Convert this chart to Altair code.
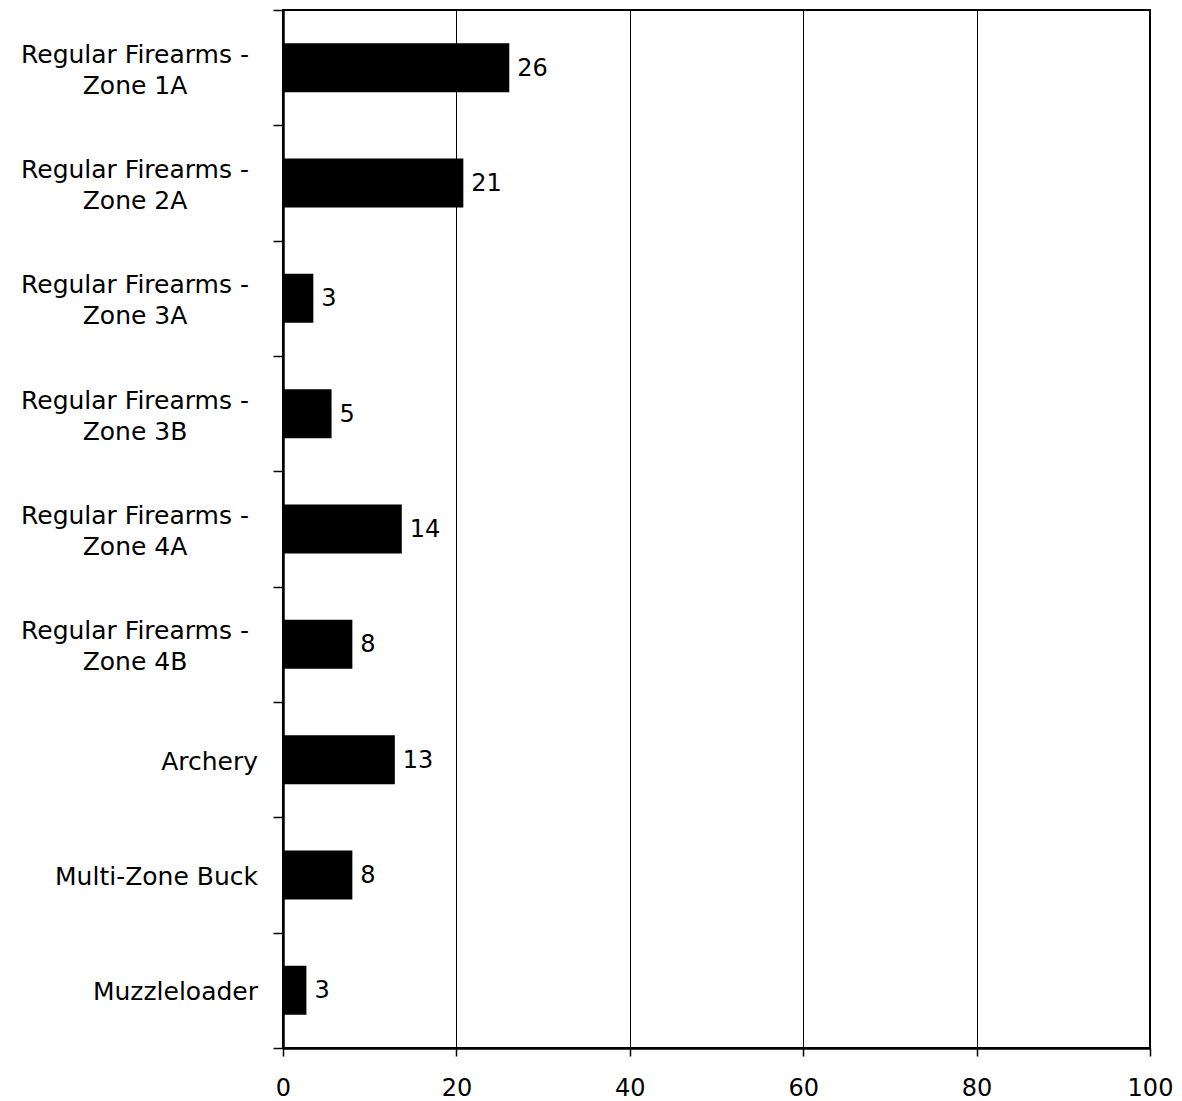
import altair as alt
import pandas as pd

categories = [
    "Regular Firearms -|Zone 1A",
    "Regular Firearms -|Zone 2A",
    "Regular Firearms -|Zone 3A",
    "Regular Firearms -|Zone 3B",
    "Regular Firearms -|Zone 4A",
    "Regular Firearms -|Zone 4B",
    "Archery",
    "Multi-Zone Buck",
    "Muzzleloader",
]
two_line = [True, True, True, True, True, True, False, False, False]
bar_values = [26.1, 20.8, 3.5, 5.6, 13.7, 8.0, 12.9, 8.0, 2.7]
value_labels = ["26", "21", "3", "5", "14", "8", "13", "8", "3"]
x_ticks = [0, 20, 40, 60, 80, 100]

df = pd.DataFrame({"cat": categories, "val": bar_values, "lab": value_labels, "two": two_line})

FONT = "DejaVu Sans"
FS_LAB = 25
FS_NUM = 24

y_scale = alt.Scale(domain=categories, paddingInner=0, paddingOuter=0)

y_enc = alt.Y(
    "cat:N",
    sort=categories,
    title=None,
    scale=y_scale,
    axis=alt.Axis(
        tickBand="extent",
        grid=False,
        labels=False,
        domainColor="black",
        domainWidth=2.5,
        tickColor="black",
        tickWidth=1.5,
        tickSize=10,
    ),
)

x_enc = alt.X(
    "val:Q",
    title=None,
    scale=alt.Scale(domain=[0, 100], nice=False),
    axis=alt.Axis(
        orient="bottom",
        values=x_ticks,
        grid=True,
        gridColor="black",
        gridWidth=1,
        gridOpacity=1,
        domainColor="black",
        domainWidth=2.5,
        tickColor="black",
        tickWidth=1.5,
        tickSize=8,
        labelFont=FONT,
        labelFontSize=FS_NUM,
        labelColor="black",
        labelPadding=20,
        labelFlush=False,
        labelOverlap=False,
    ),
)

base = alt.Chart(df)

bars = base.mark_bar(color="black", size=49).encode(y=y_enc, x=x_enc)

texts = base.mark_text(
    align="left", baseline="middle", dx=8, dy=1, font=FONT, fontSize=FS_NUM, color="black"
).encode(y=alt.Y("cat:N", sort=categories, scale=y_scale), x=alt.X("val:Q"), text="lab:N")

cat_two = base.transform_filter("datum.two").mark_text(
    align="center", baseline="middle", font=FONT, fontSize=FS_LAB, color="black",
    lineBreak="|", lineHeight=31, dy=-13,
).encode(y=alt.Y("cat:N", sort=categories, scale=y_scale), x=alt.value(-148), text="cat:N")

cat_one = base.transform_filter("!datum.two").mark_text(
    align="right", baseline="middle", font=FONT, fontSize=FS_LAB, color="black", dy=2,
).encode(y=alt.Y("cat:N", sort=categories, scale=y_scale), x=alt.value(-25), text="cat:N")

chart = (
    alt.layer(bars, texts, cat_two, cat_one)
    .properties(
        width=867,
        height=1038,
        autosize=alt.AutoSizeParams(type="none"),
        padding={"left": 275, "top": 2, "right": 24, "bottom": 60},
    )
    .configure(background="white")
    .configure_view(stroke="black", strokeWidth=2)
)

chart.save("out.html", embed_options={"renderer": "svg", "actions": False})
